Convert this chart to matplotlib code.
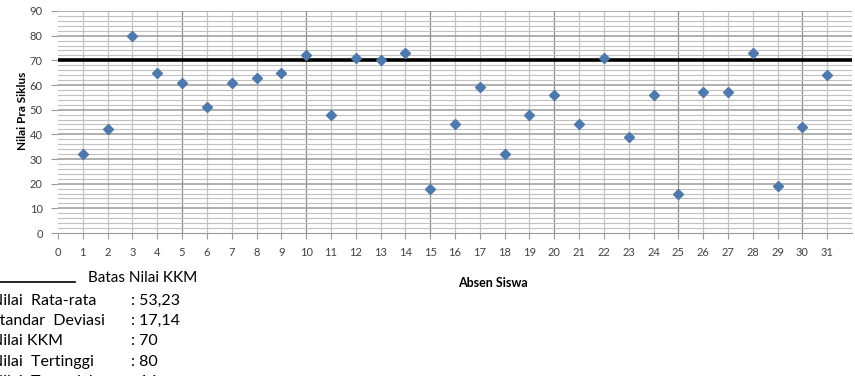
import numpy as np
import matplotlib.pyplot as plt
from matplotlib.lines import Line2D

plt.rcParams['font.family'] = ['Lato', 'DejaVu Sans']

# data
absen = list(range(1, 32))
nilai = [32, 42, 80, 65, 61, 51, 61, 63, 65, 72, 48, 71, 70, 73, 18, 44,
         59, 32, 48, 56, 44, 71, 39, 56, 16, 57, 57, 73, 19, 43, 64]
kkm = 70
stat_labels = ['Nilai  Rata-rata', 'Standar  Deviasi', 'Nilai KKM',
               'Nilai  Tertinggi', 'Nilai  Terendah']
stat_values = ['53,23', '17,14', '70', '80', '16']

W, H = 855, 376
fig = plt.figure(figsize=(W / 100, H / 100), dpi=100)
ax = fig.add_axes([58 / W, 1 - 233 / H, (852 - 58) / W, (233 - 11) / H])

ax.set_xlim(0, 32)
ax.set_ylim(0, 90)

# grid: light lines every integer / every 2, darker every 5 / 10
for x in range(1, 32):
    c = '#8c8c8c' if x % 5 == 0 else '#c4c4c4'
    ax.axvline(x, color=c, lw=0.9, zorder=1)
for y in range(2, 91, 2):
    c = '#9a9a9a' if y % 10 == 0 else '#c0c0c0'
    ax.axhline(y, color=c, lw=1.1 if y % 10 == 0 else 0.8, zorder=1)

ax.axhline(kkm, color='black', lw=2.6, zorder=2)
ax.plot(absen, nilai, linestyle='none', marker='D', ms=5.5,
        color='#4f79ad', zorder=3)

for s in ['top', 'right', 'left']:
    ax.spines[s].set_visible(False)
ax.spines['bottom'].set_color('#9a9a9a')

ax.set_xticks(range(0, 32))
ax.set_yticks(range(0, 91, 10))
ax.tick_params(axis='x', length=4, color='#9a9a9a', labelsize=8,
               labelcolor='#404040', pad=6)
ax.tick_params(axis='y', length=5, color='#9a9a9a', labelsize=8,
               labelcolor='#404040', pad=6)

ax.set_xlabel('Absen Siswa', fontsize=9, fontweight='bold')
ax.xaxis.set_label_coords((493 - 58) / (852 - 58), -0.2)
ax.set_ylabel('Nilai Pra Siklus', fontsize=8.5, fontweight='bold')
ax.yaxis.set_label_coords(-30 / (852 - 58), 0.55)

# legend-like annotation under the chart (cut off at the left edge)
fig.add_artist(Line2D([0, 75 / W], [1 - 282 / H, 1 - 282 / H],
                      color='black', lw=1.2))
fig.text(88 / W, 1 - 278 / H, 'Batas Nilai KKM', fontsize=11,
         va='center', ha='left')

for i, (lab, val) in enumerate(zip(stat_labels, stat_values)):
    yy = 1 - (301 + i * 20.2) / H
    fig.text(-9 / W, yy, lab, fontsize=11.5, va='center', ha='left')
    fig.text(131 / W, yy, ': ' + val, fontsize=11.5, va='center', ha='left')

fig.savefig('out.png', dpi=100)
